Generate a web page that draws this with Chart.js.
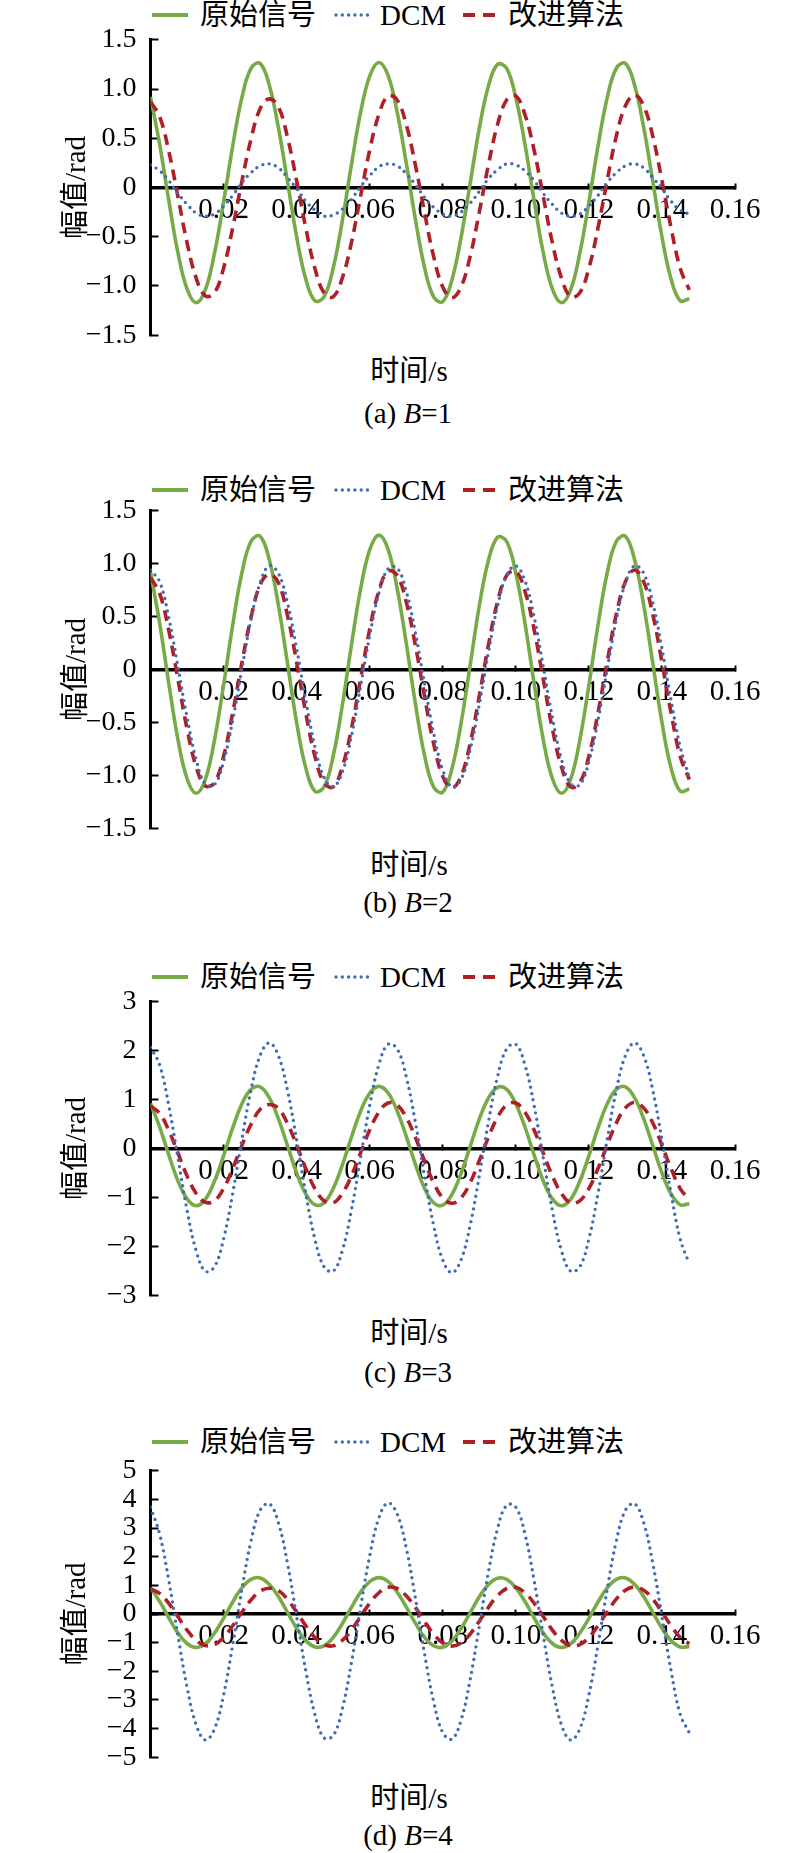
<!DOCTYPE html>
<html><head><meta charset="utf-8">
<script src="https://cdn.jsdelivr.net/npm/chart.js@4.4.1/dist/chart.umd.min.js"></script>
<style>
html,body{margin:0;padding:0;background:#fff;}
#page{position:relative;width:800px;height:1853px;overflow:hidden;font-family:'Liberation Serif','Noto Sans CJK SC',serif;color:#000;}
#page canvas{position:absolute;left:0;}
.t{position:absolute;font-size:29px;line-height:29px;white-space:nowrap;}
.c{transform:translateX(-50%);}
svg.k{position:absolute;left:0;overflow:visible;}
</style></head><body><div id="page"></div>
<script>
// ---- data ----
const timeS = [0, 0.0025, 0.005, 0.0075, 0.01, 0.0125, 0.015, 0.0175, 0.02, 0.0225,
  0.025, 0.0275, 0.03, 0.0325, 0.035, 0.0375, 0.04, 0.0425, 0.045, 0.0475,
  0.05, 0.0525, 0.055, 0.0575, 0.06, 0.0625, 0.065, 0.0675, 0.07, 0.0725,
  0.075, 0.0775, 0.08, 0.0825, 0.085, 0.0875, 0.09, 0.0925, 0.095, 0.0975,
  0.1, 0.1025, 0.105, 0.1075, 0.11, 0.1125, 0.115, 0.1175, 0.12, 0.1225,
  0.125, 0.1275, 0.13, 0.1325, 0.135, 0.1375, 0.14, 0.1425, 0.145, 0.1475];

const originalSignal = [0.92, 0.44, -0.13, -0.66, -1.03, -1.17, -1.04, -0.67, -0.15, 0.42,
  0.91, 1.21, 1.26, 1.04, 0.61, 0.06, -0.50, -0.93, -1.15, -1.11,
  -0.82, -0.34, 0.23, 0.76, 1.13, 1.27, 1.14, 0.77, 0.25, -0.32,
  -0.81, -1.11, -1.16, -0.94, -0.51, 0.04, 0.60, 1.03, 1.25, 1.21,
  0.91, 0.44, -0.13, -0.66, -1.03, -1.17, -1.04, -0.67, -0.15, 0.42,
  0.91, 1.21, 1.26, 1.04, 0.61, 0.06, -0.50, -0.93, -1.15, -1.13];

const improvedAlgo = [0.87, 0.72, 0.37, -0.09, -0.56, -0.92, -1.10, -1.07, -0.82, -0.41,
  0.06, 0.49, 0.80, 0.90, 0.82, 0.51, 0.07, -0.41, -0.82, -1.07,
  -1.11, -0.92, -0.56, -0.09, 0.38, 0.74, 0.93, 0.89, 0.64, 0.23,
  -0.25, -0.70, -1.01, -1.12, -1.01, -0.70, -0.25, 0.23, 0.64, 0.89,
  0.93, 0.74, 0.38, -0.09, -0.56, -0.92, -1.11, -1.07, -0.82, -0.41,
  0.07, 0.52, 0.83, 0.94, 0.83, 0.52, 0.07, -0.41, -0.82, -1.04];

const dcmB1 = [0.23, 0.17, 0.07, -0.06, -0.17, -0.26, -0.29, -0.27, -0.19, -0.08,
  0.05, 0.15, 0.22, 0.24, 0.20, 0.10, -0.01, -0.14, -0.23, -0.29,
  -0.28, -0.22, -0.12, 0.01, 0.12, 0.21, 0.24, 0.22, 0.14, 0.03,
  -0.10, -0.20, -0.27, -0.29, -0.25, -0.16, -0.04, 0.09, 0.18, 0.24,
  0.23, 0.17, 0.07, -0.06, -0.17, -0.26, -0.29, -0.27, -0.19, -0.08,
  0.05, 0.15, 0.22, 0.24, 0.20, 0.10, -0.01, -0.14, -0.23, -0.27];

const dcmB2 = [0.94, 0.83, 0.49, 0.03, -0.45, -0.85, -1.08, -1.09, -0.87, -0.48,
  0.00, 0.47, 0.82, 0.98, 0.91, 0.63, 0.20, -0.29, -0.73, -1.02,
  -1.11, -0.97, -0.63, -0.16, 0.32, 0.72, 0.95, 0.96, 0.74, 0.35,
  -0.13, -0.60, -0.95, -1.11, -1.04, -0.76, -0.33, 0.16, 0.60, 0.89,
  0.98, 0.84, 0.50, 0.03, -0.45, -0.85, -1.08, -1.09, -0.87, -0.48,
  0.00, 0.47, 0.82, 0.98, 0.91, 0.63, 0.20, -0.29, -0.73, -1.02];

const dcmB3 = [2.07, 1.71, 0.88, -0.19, -1.26, -2.09, -2.51, -2.42, -1.85, -0.92,
  0.18, 1.19, 1.90, 2.16, 1.90, 1.19, 0.18, -0.92, -1.85, -2.42,
  -2.51, -2.09, -1.26, -0.19, 0.88, 1.71, 2.13, 2.04, 1.47, 0.54,
  -0.56, -1.57, -2.28, -2.54, -2.28, -1.57, -0.56, 0.54, 1.47, 2.04,
  2.13, 1.71, 0.88, -0.19, -1.26, -2.09, -2.51, -2.42, -1.85, -0.92,
  0.18, 1.19, 1.90, 2.16, 1.90, 1.19, 0.18, -0.92, -1.85, -2.36];

const dcmB4 = [3.73, 2.79, 1.18, -0.74, -2.55, -3.87, -4.40, -4.02, -2.83, -1.08,
  0.85, 2.54, 3.62, 3.85, 3.19, 1.77, -0.09, -1.98, -3.50, -4.32,
  -4.25, -3.31, -1.70, 0.22, 2.03, 3.35, 3.88, 3.50, 2.31, 0.56,
  -1.37, -3.06, -4.14, -4.37, -3.71, -2.29, -0.43, 1.46, 2.98, 3.80,
  3.73, 2.79, 1.18, -0.74, -2.55, -3.87, -4.40, -4.02, -2.83, -1.08,
  0.85, 2.54, 3.62, 3.85, 3.19, 1.77, -0.09, -1.98, -3.50, -4.15];

const seriesNames = ['原始信号', 'DCM', '改进算法'];
const xTitle = '时间/s';
const yTitle = '幅值/rad';
const xTicks = [0, 0.02, 0.04, 0.06, 0.08, 0.10, 0.12, 0.14, 0.16];
const xTickLabels = ['', '0.02', '0.04', '0.06', '0.08', '0.10', '0.12', '0.14', '0.16'];
const yTicks15 = [-1.5, -1.0, -0.5, 0, 0.5, 1.0, 1.5];
const yTickLabels15 = ['−1.5', '−1.0', '−0.5', '0', '0.5', '1.0', '1.5'];
const yTicks3 = [-3, -2, -1, 0, 1, 2, 3];
const yTickLabels3 = ['−3', '−2', '−1', '0', '1', '2', '3'];
const yTicks5 = [-5, -4, -3, -2, -1, 0, 1, 2, 3, 4, 5];
const yTickLabels5 = ['−5', '−4', '−3', '−2', '−1', '0', '1', '2', '3', '4', '5'];
const panelLetters = ['a', 'b', 'c', 'd'];
const panelB = ['1', '2', '3', '4'];

// ---- styling / layout ----
const COLORS = {orig: '#78AB47', dcm: '#3D6DB5', imp: '#AE1F28'};
const SERIF = "'Liberation Serif','Noto Sans CJK SC',serif";
const panels = [
  {dcm: dcmB1, yTicks: yTicks15, yLabels: yTickLabels15, top: 30.7, bot: 343.5, leg: 15, xt: 370, cap: 415.7},
  {dcm: dcmB2, yTicks: yTicks15, yLabels: yTickLabels15, top: 501.7, bot: 836.7, leg: 490, xt: 864.5, cap: 904.5},
  {dcm: dcmB3, yTicks: yTicks3, yLabels: yTickLabels3, top: 992.7, bot: 1303.3, leg: 976.7, xt: 1332.5, cap: 1375},
  {dcm: dcmB4, yTicks: yTicks5, yLabels: yTickLabels5, top: 1462.3, bot: 1766.7, leg: 1442.3, xt: 1797.5, cap: 1837.5}
];
const PT = 30, PB = 30;
const page = document.getElementById('page');

function pts(ys) { return timeS.map((t, i) => ({x: t, y: ys[i]})); }

function addText(html, x, top, center) {
  const d = document.createElement('div');
  d.className = 't' + (center ? ' c' : '');
  d.style.left = x + 'px';
  d.style.top = top + 'px';
  d.innerHTML = html;
  page.appendChild(d);
}

panels.forEach((p, k) => {
  // legend (HTML + SVG samples)
  const svgNS = 'http://www.w3.org/2000/svg';
  const svg = document.createElementNS(svgNS, 'svg');
  svg.setAttribute('class', 'k');
  svg.setAttribute('width', '800'); svg.setAttribute('height', '20');
  svg.style.top = (p.leg - 10) + 'px';
  const samples = [
    {x1: 152, x2: 188, c: COLORS.orig, w: 4.2, dash: null, cap: 'butt'},
    {x1: 336, x2: 368, c: COLORS.dcm, w: 3.4, dash: '0 6.3', cap: 'round'},
    {x1: 463, x2: 495, c: COLORS.imp, w: 4.2, dash: '12 8', cap: 'butt'}
  ];
  samples.forEach(s => {
    const l = document.createElementNS(svgNS, 'line');
    l.setAttribute('x1', s.x1); l.setAttribute('x2', s.x2);
    l.setAttribute('y1', 10); l.setAttribute('y2', 10);
    l.setAttribute('stroke', s.c); l.setAttribute('stroke-width', s.w);
    l.setAttribute('stroke-linecap', s.cap);
    if (s.dash) l.setAttribute('stroke-dasharray', s.dash);
    svg.appendChild(l);
  });
  page.appendChild(svg);
  const legX = [200, 380, 508];
  seriesNames.forEach((n, i) => addText(n, legX[i], p.leg - 14, false));
  addText(xTitle, 409, p.xt - 13.5, true);
  addText('(' + panelLetters[k] + ') <i>B</i>=' + panelB[k], 408, p.cap - 16.9, true);

  // chart
  const h = Math.round(p.bot - p.top);
  const cv = document.createElement('canvas');
  cv.width = 800; cv.height = h + PT + PB;
  cv.style.width = '800px'; cv.style.height = (h + PT + PB) + 'px';
  cv.style.top = (p.top - PT) + 'px';
  page.appendChild(cv);

  new Chart(cv, {
    type: 'line',
    data: {
      datasets: [
        {label: seriesNames[0], data: pts(originalSignal), borderColor: COLORS.orig, borderWidth: 3.6, order: 3},
        {label: seriesNames[1], data: pts(p.dcm), borderColor: COLORS.dcm, borderWidth: 3.4, borderDash: [0, 6.5], borderCapStyle: 'round', order: 1},
        {label: seriesNames[2], data: pts(improvedAlgo), borderColor: COLORS.imp, borderWidth: 3.6, borderDash: [11, 7], order: 2}
      ]
    },
    options: {
      responsive: false,
      animation: false,
      layout: {padding: {top: PT, bottom: PB, left: 0, right: 65}},
      plugins: {legend: {display: false}, tooltip: {enabled: false}},
      elements: {point: {radius: 0}, line: {tension: 0.4, fill: false}},
      scales: {
        x: {
          type: 'linear', axis: 'x', min: 0, max: 0.16, position: {y: 0},
          afterFit(s) { s.height = 0; },
          afterBuildTicks(s) { s.ticks = xTicks.map(v => ({value: v})); },
          ticks: {autoSkip: false, maxRotation: 0, minRotation: 0, padding: 11, color: '#000',
            font: {family: 'Liberation Serif', size: 29},
            callback: (v, i) => xTickLabels[i]},
          grid: {display: true, drawOnChartArea: false, drawTicks: true, tickLength: -6, tickWidth: 2, tickColor: '#000'},
          border: {display: true, color: '#000', width: 3.5}
        },
        y: {
          type: 'linear', min: p.yTicks[0], max: p.yTicks[p.yTicks.length - 1], position: 'left',
          afterFit(s) { s.width = 150.5; },
          afterBuildTicks(s) { s.ticks = p.yTicks.map(v => ({value: v})); },
          ticks: {autoSkip: false, padding: 22, color: '#000', font: {family: 'Liberation Serif', size: 28},
            callback: (v, i) => p.yLabels[i]},
          grid: {display: true, drawOnChartArea: false, drawTicks: true, tickLength: -8, tickWidth: 2, tickColor: '#000'},
          border: {display: true, color: '#000', width: 3},
          title: {display: true, text: yTitle, color: '#000', font: {family: SERIF, size: 29}, padding: {top: 59.6, bottom: 0}}
        }
      }
    }
  });
});
</script>
</body></html>
